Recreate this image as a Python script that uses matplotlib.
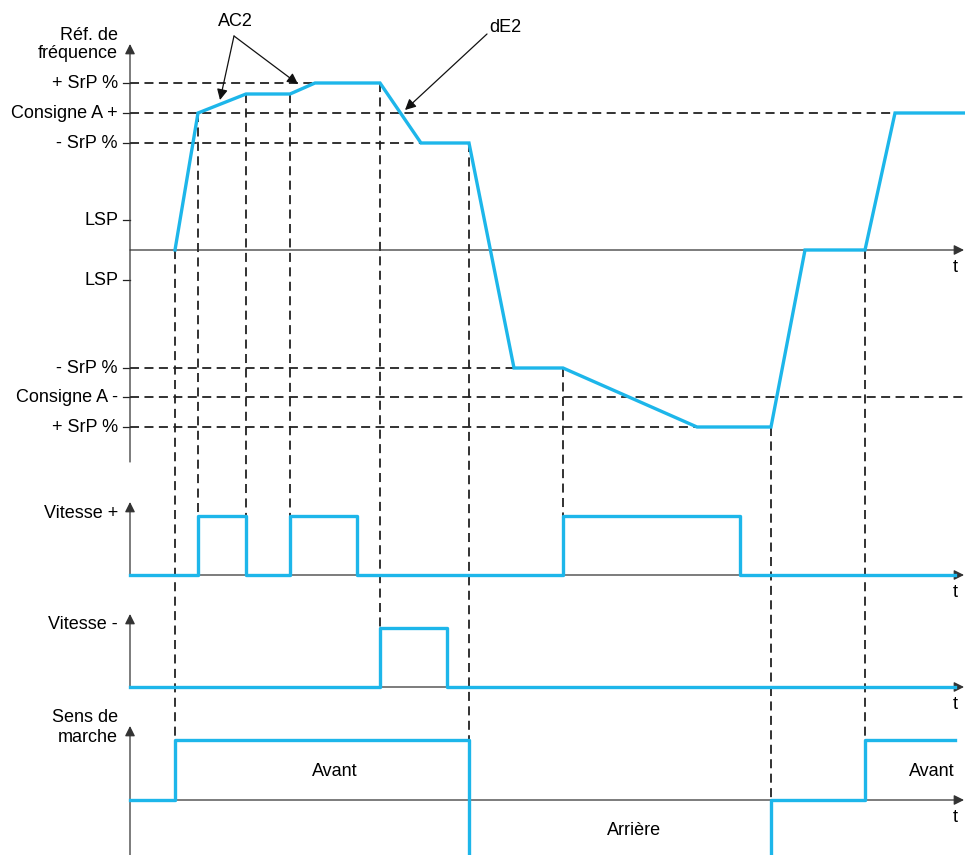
import matplotlib.pyplot as plt

plt.rcParams['font.family'] = ['Liberation Sans', 'DejaVu Sans']

# reference frequency curve (time, level); 0 = zero line
ref_t = [175, 198, 246, 290, 315, 380, 421, 469, 514, 563, 697, 771, 805, 865, 895, 965]
ref_v = [0, 137, 156, 156, 167, 167, 107, 107, -118, -118, -177, -177, 0, 0, 137, 137]

# level labels on the frequency axis
lev_names = ['+ SrP %', 'Consigne A +', '- SrP %', 'LSP', 'LSP', '- SrP %', 'Consigne A -', '+ SrP %']
lev_vals = [167, 137, 107, 30, -30, -118, -147, -177]
lev_ends = [315, 965, 421, None, None, 514, 965, 697]

# logic signals
vp_t = [130, 198, 246, 290, 357, 563, 740, 955]
vp_v = [0, 1, 0, 1, 0, 1, 0, 0]
vm_t = [130, 380, 447, 955]
vm_v = [0, 1, 0, 0]
sens_t = [130, 175, 469, 771, 865, 955]
sens_v = [0, 1, -1, 0, 1, 1]

# event guides: time, start level on ref curve, panel where it ends
guide_t = [175, 198, 246, 290, 380, 469, 563, 771, 865]
guide_v = [0, 137, 156, 156, 167, 107, -118, -177, 0]
guide_to = ['sens', 'vp', 'vp', 'vp', 'vm', 'sens', 'vp', 'sens', 'sens']

blue = '#1DB6EA'
x0 = 130
ref_base = 250
panels = {'vp': 575, 'vm': 687, 'sens': 800}
h = 59
fs = 13


def ry(v):
    return ref_base - v


fig = plt.figure(figsize=(9.65, 8.55), dpi=100)
ax = fig.add_axes([0, 0, 1, 1])
ax.set_xlim(0, 965)
ax.set_ylim(855, 0)
ax.axis('off')

arrow = dict(arrowstyle='-|>', color='#333333', lw=0.9, mutation_scale=15, shrinkA=0, shrinkB=0)
dash = dict(color='#222222', lw=1.3, ls=(0, (5, 3)), zorder=2)

# axes with arrows
ax.annotate('', xy=(x0, 44), xytext=(x0, 462), arrowprops=arrow, annotation_clip=False)
ax.annotate('', xy=(x0, 502), xytext=(x0, panels['vp']), arrowprops=arrow, annotation_clip=False)
ax.annotate('', xy=(x0, 614), xytext=(x0, panels['vm']), arrowprops=arrow, annotation_clip=False)
ax.annotate('', xy=(x0, 726), xytext=(x0, 855), arrowprops=arrow, annotation_clip=False)
for yb in [ref_base, panels['vp'], panels['vm'], panels['sens']]:
    ax.annotate('', xy=(964, yb), xytext=(x0, yb), arrowprops=arrow, annotation_clip=False)
    ax.text(955, yb + 17, 't', fontsize=fs, ha='center', va='center')

# level ticks, labels and dashed lines
for name, v, xe in zip(lev_names, lev_vals, lev_ends):
    ax.plot([x0 - 7, x0], [ry(v), ry(v)], color='#222222', lw=0.9)
    ax.text(118, ry(v), name, fontsize=fs, ha='right', va='center')
    if xe is not None:
        ax.plot([x0, xe], [ry(v), ry(v)], **dash)

# vertical event guides
for t, v, p in zip(guide_t, guide_v, guide_to):
    ax.plot([t, t], [ry(v), panels[p] - h if p != 'sens' else panels['sens']], **dash)

# signals
ax.plot(ref_t, [ry(v) for v in ref_v], color=blue, lw=2.4, zorder=5, solid_joinstyle='miter')
ax.step(vp_t, [panels['vp'] - h * v for v in vp_v], where='post', color=blue, lw=2.4, zorder=5)
ax.step(vm_t, [panels['vm'] - h * v for v in vm_v], where='post', color=blue, lw=2.4, zorder=5)
ax.step(sens_t, [panels['sens'] - 60 * v for v in sens_v], where='post', color=blue, lw=2.4, zorder=5)

# axis titles
ax.text(118, 35, 'Réf. de', fontsize=fs, ha='right', va='center')
ax.text(118, 54, 'fréquence', fontsize=fs, ha='right', va='center')
ax.text(118, 513, 'Vitesse +', fontsize=fs, ha='right', va='center')
ax.text(118, 624, 'Vitesse -', fontsize=fs, ha='right', va='center')
ax.text(118, 717, 'Sens de', fontsize=fs, ha='right', va='center')
ax.text(118, 737, 'marche', fontsize=fs, ha='right', va='center')
ax.text(335, 771, 'Avant', fontsize=fs, ha='center', va='center')
ax.text(932, 771, 'Avant', fontsize=fs, ha='center', va='center')
ax.text(634, 830, 'Arrière', fontsize=fs, ha='center', va='center')

# annotations
pt = dict(arrowstyle='-|>', color='#111111', lw=0.9, mutation_scale=16, shrinkA=0, shrinkB=0)
ax.text(235, 22, 'AC2', fontsize=fs, ha='center', va='center')
ax.annotate('', xy=(220, 100), xytext=(234, 36), arrowprops=pt)
ax.annotate('', xy=(298, 84), xytext=(234, 36), arrowprops=pt)
ax.text(505, 27, 'dE2', fontsize=fs, ha='center', va='center')
ax.annotate('', xy=(405, 110), xytext=(487, 34), arrowprops=pt)

fig.savefig('out.png', dpi=100)
